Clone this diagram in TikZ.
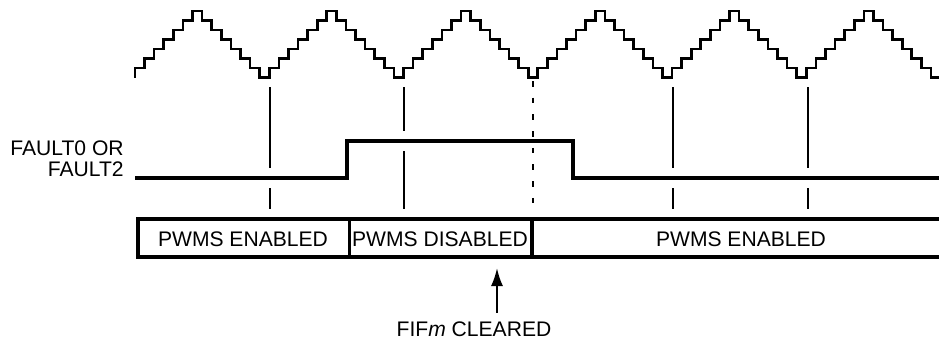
\documentclass[tikz,border=0pt]{standalone}
\usepackage{fontspec}
\setmainfont{Liberation Sans}
\usetikzlibrary{arrows.meta, positioning}

\begin{document}
\begin{tikzpicture}[x=0.2mm, y=-0.2mm,
    wave/.style={line width=1.5pt, line join=miter},
    signal/.style={line width=1.8pt},
    tick/.style={line width=1.2pt},
    label/.style={font=\fontsize{12}{12}\selectfont, inner sep=0pt},
    arrow/.style={-{Latex[length=3.6mm, width=2.4mm]}, line width=1.2pt}
]
\useasboundingbox (0,0) rectangle (939,342);

% staircase carrier
\draw[wave] (135,77.5)
  \foreach \n [evaluate=\n as \lv using {int(mod(\n,14)<7 ? mod(\n,14)+1 : 13-mod(\n,14))}] in {0,...,83} {
    -- ({135+\n*9.59},{77.5-9.5*\lv}) -- ({135+(\n+1)*9.59},{77.5-9.5*\lv})
  };

% fault input
\node[label, align=right, anchor=east] (fault) at (124,159) {FAULT0 OR\\FAULT2};
\draw[signal] (135,178) -- (347,178) -- (347,141) -- (573,141) -- (573,178) -- (939,178);

% sample points
\foreach \x/\g in {270/178, 404/141, 673/178, 808/178}
  \draw[tick] (\x,87) -- (\x,{\g-10}) (\x,{\g+10}) -- (\x,209);
\draw[tick, dash pattern=on 3.2pt off 6.3pt] (533,81) -- (533,214);

% pwm state
\draw[signal] (939,219) -- (138,219) -- (138,257) -- (939,257);
\draw[signal] (349.5,219) -- (349.5,257);
\draw[signal] (532,219) -- (532,257);
\node[label] (en1) at (243,239) {PWMS ENABLED};
\node[label] (dis) at (440,239) {PWMS DISABLED};
\node[label] (en2) at (741,239) {PWMS ENABLED};

% flag cleared
\coordinate (fifm) at (497,268);
\node[label, inner sep=5pt] (clr) at (474,329.5) {FIF\textit{m} CLEARED};
\draw[arrow] (clr.north -| fifm) -- (fifm);
\end{tikzpicture}
\end{document}
